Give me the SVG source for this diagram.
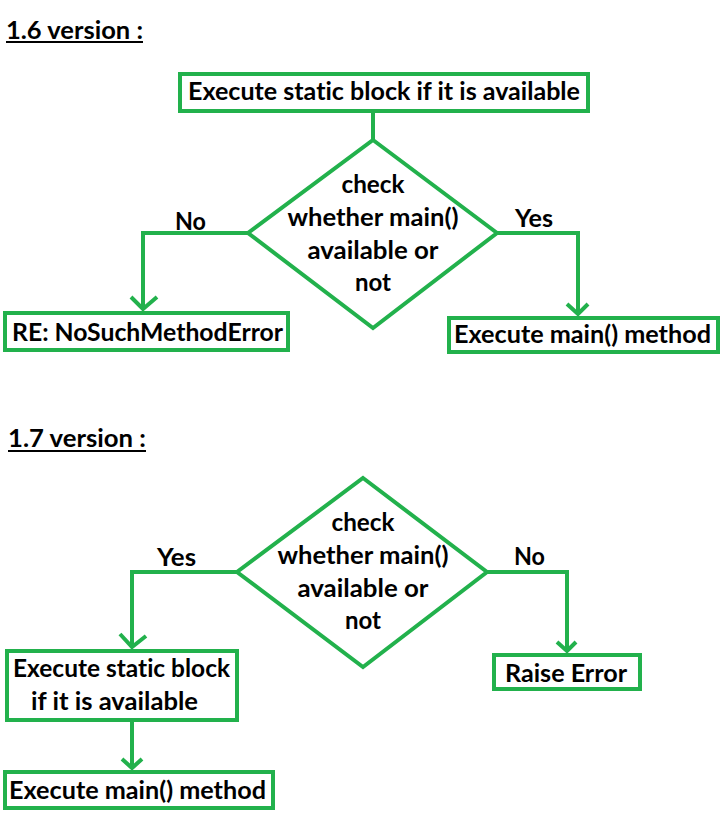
<svg xmlns="http://www.w3.org/2000/svg" width="725" height="820" viewBox="0 0 725 820">
<style>
  text { font-family: Lato, "Liberation Sans", sans-serif; font-weight: bold; font-size: 24px; fill: #000; font-variant-ligatures: none; }
  .mid { text-anchor: middle; }
  .box { fill: #fff; stroke: #22b14c; stroke-width: 4; }
  .dia { fill: #fff; stroke: #22b14c; stroke-width: 4; stroke-linejoin: miter; }
  .conn { fill: none; stroke: #22b14c; stroke-width: 4; stroke-linejoin: miter; }
  .head { fill: none; stroke: #22b14c; stroke-width: 4; stroke-linecap: butt; }
  .ul { stroke: #000; stroke-width: 2; }
</style>
<rect width="725" height="820" fill="#fff"/>

<g id="connectors">
  <!-- 1.6 -->
  <path class="conn" d="M373,113 V140"/>
  <path class="conn" d="M248,233 H143 V309"/>
  <path class="head" d="M131,297 L143,309 L157,297"/>
  <path class="conn" d="M497,233 H578 V314"/>
  <path class="head" d="M567,304 L578,314 L588,304"/>
  <!-- 1.7 -->
  <path class="conn" d="M237,572 H132 V647"/>
  <path class="head" d="M120,634 L132,647 L146,636"/>
  <path class="conn" d="M132,722 V768"/>
  <path class="head" d="M122,759 L132,768 L142,759"/>
  <path class="conn" d="M487,572 H567 V651"/>
  <path class="head" d="M557,642 L567,651 L576,642"/>
</g>

<g id="title16">
  <text x="6" y="39" textLength="137" lengthAdjust="spacingAndGlyphs">1.6 version :</text>
  <line class="ul" x1="6" y1="42" x2="143" y2="42"/>
</g>

<g id="static16">
  <rect class="box" x="180" y="74" width="408" height="37"/>
  <text x="188" y="100" textLength="392" lengthAdjust="spacingAndGlyphs">Execute static block if it is available</text>
</g>

<g id="check16">
  <polygon class="dia" points="373,140 497,233 373,328 248,233"/>
  <text class="mid" x="373" y="193" textLength="63" lengthAdjust="spacingAndGlyphs">check</text>
  <text class="mid" x="373" y="226" textLength="171" lengthAdjust="spacingAndGlyphs">whether main()</text>
  <text class="mid" x="373" y="259" textLength="131" lengthAdjust="spacingAndGlyphs">available or</text>
  <text class="mid" x="373" y="291" textLength="36" lengthAdjust="spacingAndGlyphs">not</text>
</g>

<g id="label-no16">
  <text x="175" y="230" textLength="31" lengthAdjust="spacingAndGlyphs">No</text>
</g>
<g id="label-yes16">
  <text x="515" y="227" textLength="38" lengthAdjust="spacingAndGlyphs">Yes</text>
</g>

<g id="error16">
  <rect class="box" x="5" y="313" width="283" height="37"/>
  <text x="12" y="341" textLength="271" lengthAdjust="spacingAndGlyphs">RE: NoSuchMethodError</text>
</g>

<g id="main16">
  <rect class="box" x="449" y="318" width="269" height="34"/>
  <text x="454" y="343" textLength="257" lengthAdjust="spacingAndGlyphs">Execute main() method</text>
</g>

<g id="title17">
  <text x="8" y="447" textLength="138" lengthAdjust="spacingAndGlyphs">1.7 version :</text>
  <line class="ul" x1="8" y1="451" x2="146" y2="451"/>
</g>

<g id="check17">
  <polygon class="dia" points="363,478 487,572 363,667 237,572"/>
  <text class="mid" x="363" y="531" textLength="63" lengthAdjust="spacingAndGlyphs">check</text>
  <text class="mid" x="363" y="564" textLength="171" lengthAdjust="spacingAndGlyphs">whether main()</text>
  <text class="mid" x="363" y="597" textLength="131" lengthAdjust="spacingAndGlyphs">available or</text>
  <text class="mid" x="363" y="629" textLength="36" lengthAdjust="spacingAndGlyphs">not</text>
</g>

<g id="label-yes17">
  <text x="157" y="566" textLength="39" lengthAdjust="spacingAndGlyphs">Yes</text>
</g>
<g id="label-no17">
  <text x="514" y="565" textLength="31" lengthAdjust="spacingAndGlyphs">No</text>
</g>

<g id="static17">
  <rect class="box" x="7" y="651" width="230" height="69"/>
  <text x="13" y="677" textLength="217" lengthAdjust="spacingAndGlyphs">Execute static block</text>
  <text x="31" y="710" textLength="167" lengthAdjust="spacingAndGlyphs">if it is available</text>
</g>

<g id="main17">
  <rect class="box" x="5" y="772" width="268" height="36"/>
  <text x="9" y="799" textLength="257" lengthAdjust="spacingAndGlyphs">Execute main() method</text>
</g>

<g id="raise17">
  <rect class="box" x="494" y="655" width="146" height="34"/>
  <text x="505" y="682" textLength="122" lengthAdjust="spacingAndGlyphs">Raise Error</text>
</g>
</svg>
